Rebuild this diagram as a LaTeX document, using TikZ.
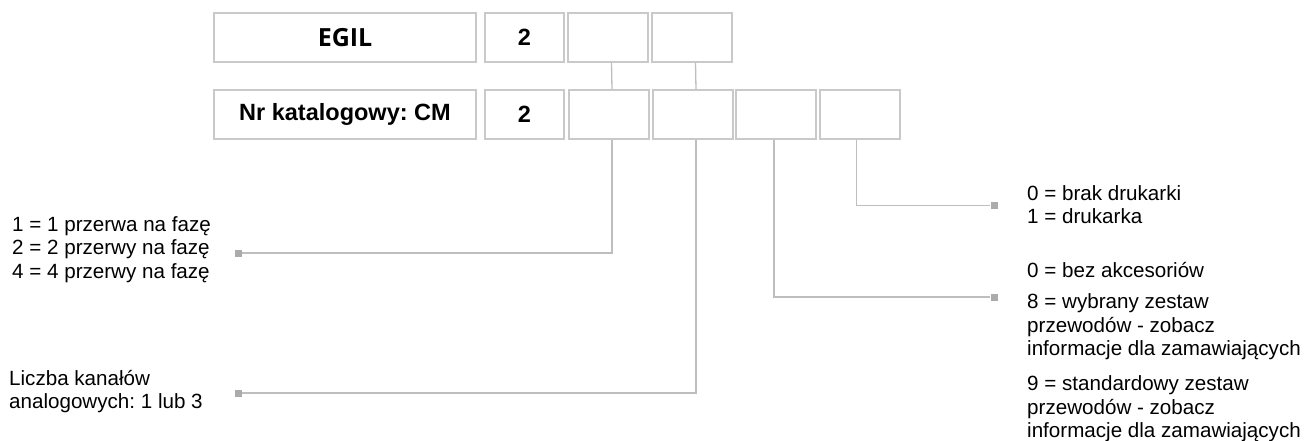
\documentclass[tikz,border=0pt]{standalone}
\usepackage{fontspec}
\setmainfont{Liberation Sans}
\newfontfamily\titlefont{Open Sans}
\usetikzlibrary{positioning}
\definecolor{BoxGray}{HTML}{C9C9C9}
\definecolor{WireGray}{HTML}{BEBEBE}
\definecolor{TipGray}{HTML}{ABABAB}
\frenchspacing

\begin{document}
\begin{tikzpicture}[x=1pt, y=-1pt,
    cell/.style={draw=BoxGray, line width=1.3pt, minimum height=49pt, inner sep=0pt,
                 font=\bfseries\fontsize{23.5}{25}\selectfont},
    wire/.style={draw=WireGray, line width=1.3pt},
    tip/.style={fill=TipGray, minimum size=7pt, inner sep=0pt},
    note/.style={anchor=west, align=left, inner sep=0pt,
                 font=\fontsize{20.6}{23.5}\selectfont}]
  \useasboundingbox (0,0) rectangle (1309,441);

  \foreach \n/\xa/\xb/\txt in {a/214/476/{\titlefont\fontsize{25}{26}\selectfont EGIL}, b/485/564/2,
                               c/568/648/{}, d/652/732/{}}{
    \node[cell, minimum width=\xb-\xa] (t\n) at ({(\xa+\xb)/2},37.5) {\txt};
  }
  \foreach \n/\xa/\xb/\txt in {a/214/476/{Nr katalogowy: CM}, b/485/564/2, c/569/649/{},
                               d/653/733/{}, e/736/816/{}, f/820/900/{}}{
    \node[cell, minimum width=\xb-\xa] (c\n) at ({(\xa+\xb)/2},114.5) {\txt};
  }

  \draw[wire] ([xshift=3.5pt]tc.south) -- ([xshift=3pt]cc.north);
  \draw[wire] ([xshift=3.5pt]td.south) -- ([xshift=3pt]cd.north);

  \node[tip] (m1) at (238,253) {};
  \node[tip] (m2) at (238,393) {};
  \node[tip] (m3) at (994,297) {};
  \node[tip] (m4) at (994,205.5) {};

  \draw[wire] ([xshift=3pt]cc.south) |- (m1);
  \draw[wire] ([xshift=3pt]cd.south) |- (m2);
  \draw[wire] ([xshift=-2pt]ce.south) |- (m3);
  \draw[wire] ([xshift=-3.5pt]cf.south) |- (m4);

  \node[note] (faza) at (12,249.5) {1 = 1 przerwa na fazę\\2 = 2 przerwy na fazę\\4 = 4 przerwy na fazę};
  \node[note] (kanaly) at (9,391.5) {Liczba kanałów\\analogowych: 1 lub 3};
  \node[note] (druk) at (1027,204.5) {0 = brak drukarki\\1 = drukarka};
  \node[note] (akc0) at (1027,270) {0 = bez akcesoriów};
  \node[note] (akc8) at (1027,327) {8 = wybrany zestaw\\przewodów - zobacz\\informacje dla zamawiających};
  \node[note] (akc9) at (1027,409) {9 = standardowy zestaw\\przewodów - zobacz\\informacje dla zamawiających};
\end{tikzpicture}
\end{document}
